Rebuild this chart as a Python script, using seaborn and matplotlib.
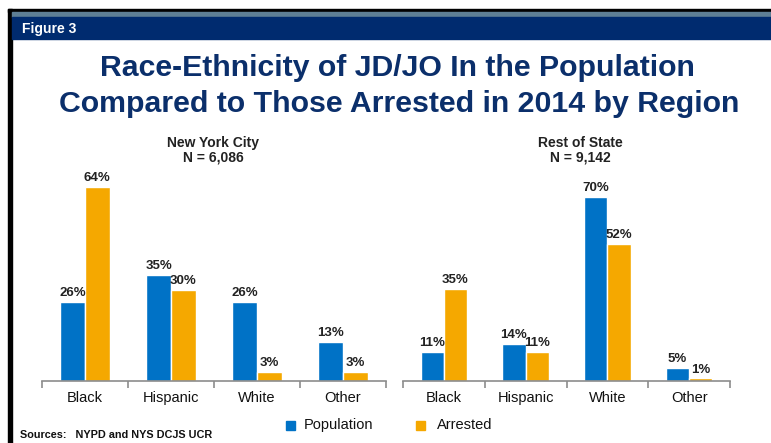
import numpy as np
import pandas as pd
import seaborn as sns
import matplotlib.pyplot as plt
from matplotlib.patches import Rectangle

# data
races = ["Black", "Hispanic", "White", "Other"]
nyc_population = [26, 35, 26, 13]
nyc_arrested = [64, 30, 3, 3]
ros_population = [11, 14, 70, 5]
ros_arrested = [35, 11, 52, 1]
regions = ["New York City\nN = 6,086", "Rest of State\nN = 9,142"]
series = ["Population", "Arrested"]

colors = {"Population": "#0072C6", "Arrested": "#F5A800"}

def long_frame(pop, arr):
    return pd.DataFrame({
        "race": races * 2,
        "group": [series[0]] * len(races) + [series[1]] * len(races),
        "pct": pop + arr,
    })

frames = [long_frame(nyc_population, nyc_arrested),
          long_frame(ros_population, ros_arrested)]

sns.set_theme(style="white")
plt.rcParams["font.family"] = ["Liberation Sans", "DejaVu Sans"]

W, H = 771, 443
fig = plt.figure(figsize=(W / 100, H / 100), dpi=100)

def px(x0, y0, x1, y1):
    # pixel box (top-left origin) -> figure fraction rect
    return [x0 / W, 1 - y1 / H, (x1 - x0) / W, (y1 - y0) / H]

# frame decorations
fig.patches.append(Rectangle((8 / W, 0), 4 / W, 1 - 9 / H, transform=fig.transFigure,
                             color="black", zorder=0))
fig.patches.append(Rectangle((8 / W, 1 - 12 / H), 1, 3 / H, transform=fig.transFigure,
                             color="black", zorder=0))
fig.patches.append(Rectangle((12 / W, 1 - 17 / H), 1, 5 / H, transform=fig.transFigure,
                             color="#5E7F95", zorder=0))
fig.patches.append(Rectangle((12 / W, 1 - 39 / H), 1, 22 / H, transform=fig.transFigure,
                             color="#002B6F", zorder=0))
fig.text(22 / W, 1 - 29 / H, "Figure 3", color="white", fontsize=10, fontweight="bold",
         va="center", ha="left")

fig.text(397 / W, 1 - 68 / H, "Race-Ethnicity of JD/JO In the Population",
         color="#0B2F6B", fontsize=21.8, fontweight="bold", ha="center", va="center")
fig.text(399 / W, 1 - 104 / H, "Compared to Those Arrested in 2014 by Region",
         color="#0B2F6B", fontsize=21.8, fontweight="bold", ha="center", va="center")

boxes = [px(42, 150, 386, 381), px(403, 150, 730, 381)]
ymax = [231 / 3.03, 231 / 2.63]
title_x = [213, 580]

for i, (df, box) in enumerate(zip(frames, boxes)):
    ax = fig.add_axes(box)
    sns.barplot(data=df, x="race", y="pct", hue="group", palette=colors,
                width=0.57, gap=0, saturation=1, ax=ax, legend=False)
    ax.set_ylim(0, ymax[i])
    ax.set_xlim(-0.5, 3.5)
    for c in ax.containers:
        ax.bar_label(c, fmt="%d%%", padding=2, fontsize=9.5, fontweight="bold",
                     color="#222222")
    for s in ["top", "right", "left"]:
        ax.spines[s].set_visible(False)
    ax.spines["bottom"].set_color("#8C8C8C")
    ax.spines["bottom"].set_linewidth(1.2)
    ax.set_xticks(np.arange(-0.5, 4, 1))
    ax.set_xticklabels([])
    ax.tick_params(axis="x", which="major", bottom=True, length=5, color="#8C8C8C",
                   width=1.2, direction="out")
    ax.set_xticks(np.arange(4), minor=True)
    ax.set_xticklabels(races, minor=True, fontsize=10.5, color="#111111")
    ax.tick_params(axis="x", which="minor", length=0, pad=7)
    ax.set_yticks([])
    ax.set_xlabel("")
    ax.set_ylabel("")
    ax.patch.set_alpha(0)
    fig.text(title_x[i] / W, 1 - 150 / H, regions[i], ha="center", va="center",
             fontsize=10, fontweight="bold", color="#222222", linespacing=1.0)

# legend
fig.patches.append(Rectangle((286 / W, 1 - 430 / H), 9 / W, 9 / H,
                             transform=fig.transFigure, color=colors["Population"]))
fig.text(304 / W, 1 - 425 / H, "Population", fontsize=10.5, va="center", color="#111111")
fig.patches.append(Rectangle((416 / W, 1 - 430 / H), 9 / W, 9 / H,
                             transform=fig.transFigure, color=colors["Arrested"]))
fig.text(437 / W, 1 - 425 / H, "Arrested", fontsize=10.5, va="center", color="#111111")

fig.text(20 / W, 1 - 435 / H, "Sources:   NYPD and NYS DCJS UCR", fontsize=7.8,
         fontweight="bold", va="center", color="#111111")

fig.savefig("out.png", dpi=100, facecolor="white")
